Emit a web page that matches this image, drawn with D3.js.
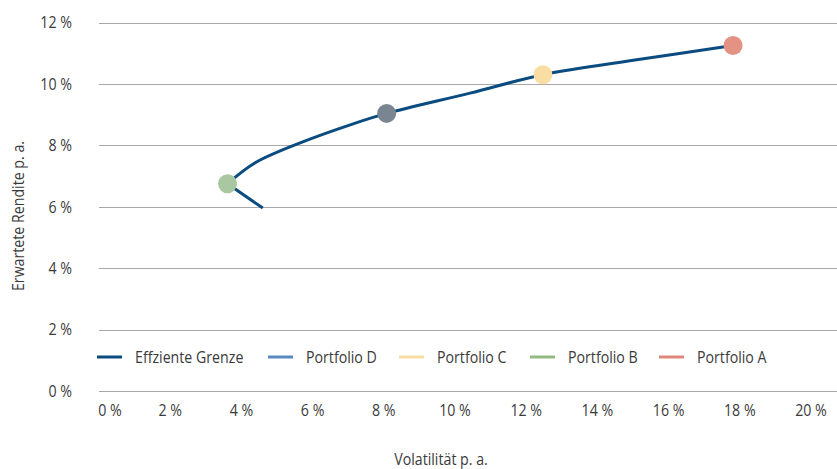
<!DOCTYPE html>
<html>
<head>
<meta charset="utf-8">
<script src="https://cdn.jsdelivr.net/npm/d3@7"></script>
<style>
  html, body { margin: 0; padding: 0; background: #fff; }
  svg text { font-family: "Open Sans", "Liberation Sans", sans-serif; font-weight: 400; fill: #3a3a3a; }
</style>
</head>
<body>
<svg id="chart" width="837" height="469"></svg>
<script>
// Efficient frontier: lower branch (below minimum-variance point) and upper branch
const frontierLower = [
  { vol: 4.60, ret: 5.96 },
  { vol: 3.61, ret: 6.75 }
];
const frontierUpper = [
  { vol: 3.61, ret: 6.75 },
  { vol: 4.40, ret: 7.44 },
  { vol: 5.74, ret: 8.12 },
  { vol: 7.14, ret: 8.70 },
  { vol: 8.08, ret: 9.04 },
  { vol: 10.42, ret: 9.70 },
  { vol: 12.47, ret: 10.30 },
  { vol: 15.20, ret: 10.80 },
  { vol: 17.81, ret: 11.25 }
];

// Portfolios on the frontier
const portfolioNames = ["Portfolio D", "Portfolio C", "Portfolio B", "Portfolio A"];
const portfolioVol = [8.08, 12.47, 3.61, 17.81];
const portfolioRet = [9.04, 10.30, 6.75, 11.25];
const markerColors = ["#7a8591", "#f8dea2", "#a9c8a2", "#e39284"];
const legendColors = ["#5b89bd", "#f8dea2", "#93ba83", "#e0877b"];

const xTicks = [0, 2, 4, 6, 8, 10, 12, 14, 16, 18, 20];
const yTicks = [0, 2, 4, 6, 8, 10, 12];

const frontierColor = "#0a4b80";
const gridColor = "#a8a8a8";
const fontSize = 16.5;
const squeeze = 0.86; // narrow letterforms

const svg = d3.select("#chart");
const x = d3.scaleLinear().domain([0, 20]).range([99, 811]);
const y = d3.scaleLinear().domain([0, 12]).range([391, 22.5]);

// Horizontal gridlines
svg.append("g").selectAll("line").data(yTicks).join("line")
  .attr("x1", 99).attr("x2", 837)
  .attr("y1", d => Math.round(y(d)) + 0.5).attr("y2", d => Math.round(y(d)) + 0.5)
  .attr("stroke", gridColor).attr("stroke-width", 1);

// Y tick labels
svg.append("g").selectAll("text").data(yTicks).join("text")
  .attr("transform", d => `translate(72,${y(d)}) scale(${squeeze},1)`)
  .attr("dy", "0.35em")
  .attr("text-anchor", "end")
  .attr("font-size", fontSize)
  .text(d => d + " %");

// X tick labels
svg.append("g").selectAll("text").data(xTicks).join("text")
  .attr("transform", d => `translate(${x(d) + (d === 0 ? 11 : 0)},410) scale(${squeeze},1)`)
  .attr("dy", "0.35em")
  .attr("text-anchor", "middle")
  .attr("font-size", fontSize)
  .text(d => d + " %");

// Axis titles
svg.append("text")
  .attr("transform", `translate(18,216) rotate(-90) scale(${squeeze},1)`)
  .attr("text-anchor", "middle")
  .attr("dy", "0.35em")
  .attr("font-size", fontSize)
  .text("Erwartete Rendite p. a.");

svg.append("text")
  .attr("transform", `translate(441,459) scale(${squeeze},1)`)
  .attr("dy", "0.35em")
  .attr("text-anchor", "middle")
  .attr("font-size", fontSize)
  .text("Volatilität p. a.");

// Frontier line
const lineLower = d3.line().x(d => x(d.vol)).y(d => y(d.ret)).curve(d3.curveLinear);
const lineUpper = d3.line().x(d => x(d.vol)).y(d => y(d.ret)).curve(d3.curveCatmullRom.alpha(0.5));

svg.append("path").datum(frontierLower)
  .attr("d", lineLower)
  .attr("fill", "none").attr("stroke", frontierColor).attr("stroke-width", 3);
svg.append("path").datum(frontierUpper)
  .attr("d", lineUpper)
  .attr("fill", "none").attr("stroke", frontierColor).attr("stroke-width", 3);

// Portfolio markers
svg.append("g").selectAll("circle").data(portfolioNames).join("circle")
  .attr("cx", (d, i) => x(portfolioVol[i]))
  .attr("cy", (d, i) => y(portfolioRet[i]))
  .attr("r", 9.5)
  .attr("fill", (d, i) => markerColors[i]);

// Legend
const legendItems = [{ name: "Effziente Grenze", color: frontierColor }]
  .concat(portfolioNames.map((n, i) => ({ name: n, color: legendColors[i] })));
const legendX = [97, 268, 399, 530, 659];
const legendY = 357;
const lg = svg.append("g").selectAll("g").data(legendItems).join("g")
  .attr("transform", (d, i) => `translate(${legendX[i]},${legendY})`);
lg.append("line")
  .attr("x1", 0).attr("x2", 25).attr("y1", 0).attr("y2", 0)
  .attr("stroke", d => d.color).attr("stroke-width", 3);
lg.append("text")
  .attr("transform", `translate(38,0) scale(${squeeze},1)`)
  .attr("dy", "0.35em")
  .attr("font-size", fontSize)
  .text(d => d.name);
</script>
</body>
</html>
